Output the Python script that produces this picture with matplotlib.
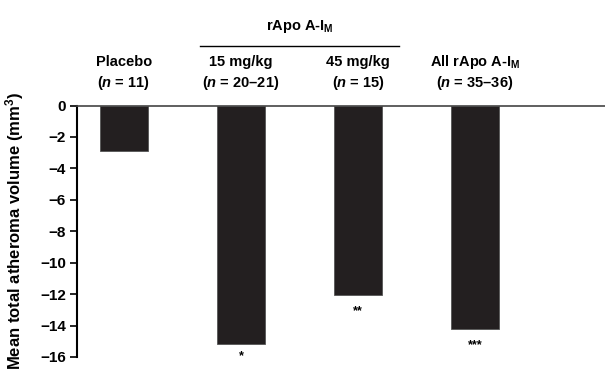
import matplotlib
matplotlib.use("Agg")
import matplotlib.pyplot as plt
from matplotlib.transforms import offset_copy

plt.rcParams['font.family'] = ['Liberation Sans', 'DejaVu Sans']
plt.rcParams['font.weight'] = 'bold'
plt.rcParams['mathtext.fontset'] = 'custom'
plt.rcParams['mathtext.rm'] = 'Liberation Sans:bold'
plt.rcParams['mathtext.it'] = 'Liberation Sans:bold:italic'
plt.rcParams['mathtext.bf'] = 'Liberation Sans:bold'

categories = ["Placebo", "15 mg/kg", "45 mg/kg", "All rApo A-I$_{\\mathrm{M}}$"]
n_labels = ["($n$ = 11)", "($n$ = 20\u201321)", "($n$ = 15)", "($n$ = 35\u201336)"]
values = [-2.9, -15.2, -12.05, -14.2]
stars = ["", "*", "**", "***"]
group_label = "rApo A-I$_{\\mathrm{M}}$"
yticks = [0, -2, -4, -6, -8, -10, -12, -14, -16]

fig = plt.figure(figsize=(6.05, 3.74), dpi=100)
ax = fig.add_axes([77/605, 1-357/374, (605-77)/605, (357-105.5)/374])
x = list(range(len(values)))
ax.bar(x, values, width=0.41, color="#231f20", edgecolor="#555555", linewidth=0.6, zorder=2)
ax.set_xlim(-0.40, 4.11)
ax.set_ylim(-16, 0)
ax.axhline(0, color="#444444", linewidth=1.2, zorder=3, clip_on=False)
ax.set_yticks(yticks)
ax.set_yticklabels([str(t).replace('-', '\u2212') for t in yticks], fontsize=11, fontweight='bold')
ax.tick_params(axis='y', direction='out', length=5, width=1.2, pad=3)
ax.set_xticks([])
for s in ['top', 'right', 'bottom']:
    ax.spines[s].set_visible(False)
ax.spines['left'].set_linewidth(1.5)
ax.set_ylabel("Mean total atheroma volume (mm$^3$)", fontsize=12, fontweight='bold')
ax.yaxis.set_label_coords(-0.097, 0.5)

star_offsets = [0, -8.6, -12, -12]
for xi, v, st, off in zip(x, values, stars, star_offsets):
    if st:
        ax.annotate(st, xy=(xi, v), xytext=(0, off), textcoords='offset points',
                    ha='center', va='center', fontsize=9, fontweight='bold')

xt = ax.get_xaxis_transform()
for xi, c, nl in zip(x, categories, n_labels):
    ax.annotate(c, xy=(xi, 1), xycoords=xt, xytext=(0, 31.3),
                textcoords='offset points', ha='center', va='center', fontsize=10.5,
                fontweight='bold', annotation_clip=False)
    ax.annotate(nl, xy=(xi, 1), xycoords=xt, xytext=(0, 16.2),
                textcoords='offset points', ha='center', va='center', fontsize=10.5,
                fontweight='bold', annotation_clip=False)

# group header over the two dose bars
ax.annotate(group_label, xy=(1.5, 1), xycoords=xt, xytext=(0, 57),
            textcoords='offset points', ha='center', va='center', fontsize=10.5,
            fontweight='bold', annotation_clip=False)
line_tr = offset_copy(xt, fig=fig, x=0, y=42.8, units='points')
ax.plot([0.65, 2.35], [1.0, 1.0], transform=line_tr, clip_on=False,
        color='black', linewidth=1.0)

fig.savefig("out.png", dpi=100)
